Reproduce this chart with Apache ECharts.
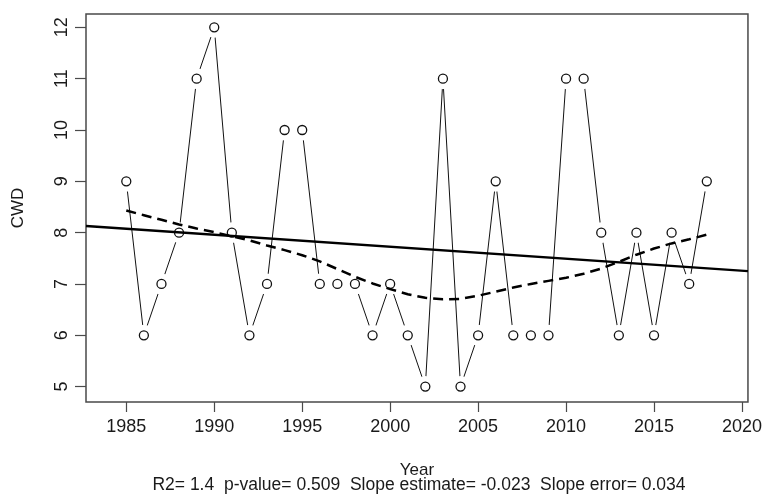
<!DOCTYPE html>
<html>
<head>
<meta charset="utf-8">
<script src="https://cdn.jsdelivr.net/npm/echarts@6/dist/echarts.min.js"></script>
<style>
html,body{margin:0;padding:0;background:#fff;}
#chart{width:765px;height:501px;}
</style>
</head>
<body>
<div id="chart"></div>
<script>
// ---- data ----
const years = [1985,1986,1987,1988,1989,1990,1991,1992,1993,1994,1995,1996,1997,1998,1999,2000,2001,2002,2003,2004,2005,2006,2007,2008,2009,2010,2011,2012,2013,2014,2015,2016,2017,2018];
const cwd = [9,6,7,8,11,12,8,6,7,10,10,7,7,7,6,7,6,5,11,5,6,9,6,6,6,11,11,8,6,8,6,8,7,9];
const loess = [8.43,8.34,8.25,8.16,8.08,8.01,7.93,7.85,7.75,7.66,7.56,7.44,7.29,7.14,7.01,6.90,6.80,6.73,6.70,6.71,6.77,6.85,6.93,7.00,7.06,7.12,7.20,7.30,7.43,7.57,7.69,7.79,7.87,7.96];
const trendYears = [1982.71, 2020.34];
const trendValues = [8.13, 7.25];
const xTicks = [1985,1990,1995,2000,2005,2010,2015,2020];
const yTicks = [5,6,7,8,9,10,11,12];
const xTitle = 'Year';
const yTitle = 'CWD';
const statsText = 'R2= 1.4  p-value= 0.509  Slope estimate= -0.023  Slope error= 0.034';

const pts = years.map((y,i)=>[y,cwd[i]]);
const loessPts = years.map((y,i)=>[y,loess[i]]);
const trendPts = trendYears.map((y,i)=>[y,trendValues[i]]);

const FONT = '"Liberation Sans", Arial, sans-serif';
const TXT = '#1a1a1a';
const chart = echarts.init(document.getElementById('chart'), null, {renderer:'canvas'});
chart.setOption({
  animation:false,
  backgroundColor:'#fff',
  grid:{left:86, top:14, right:13, bottom:99, show:true, borderColor:'#4a4a4a', borderWidth:1.5, backgroundColor:'transparent'},
  xAxis:{
    type:'value', min:1982.71, max:2020.34,
    name:xTitle, nameLocation:'middle', nameGap:60,
    nameTextStyle:{fontFamily:FONT, fontSize:17, color:TXT},
    axisLine:{show:false},
    splitLine:{show:false},
    axisTick:{show:true, length:10, customValues:xTicks, lineStyle:{color:'#4a4a4a', width:1.2}},
    axisLabel:{customValues:xTicks, margin:16, fontFamily:FONT, fontSize:18, color:TXT, formatter:v=>String(v)}
  },
  yAxis:{
    type:'value', min:4.70, max:12.26,
    name:yTitle, nameLocation:'middle', nameGap:59, nameRotate:90,
    nameTextStyle:{fontFamily:FONT, fontSize:17, color:TXT},
    axisLine:{show:false},
    splitLine:{show:false},
    axisTick:{show:true, length:11, customValues:yTicks, lineStyle:{color:'#4a4a4a', width:1.2}},
    axisLabel:{customValues:yTicks, rotate:90, margin:15, fontFamily:FONT, fontSize:18, color:TXT, formatter:v=>String(v)}
  },
  graphic:[{
    type:'text', x:419, y:476,
    style:{text:statsText, font:'17.5px "Liberation Sans", Arial, sans-serif', fill:TXT, textAlign:'center', textVerticalAlign:'top'}
  }],
  series:[
    {type:'line', data:pts, showSymbol:false, symbol:'none', z:2,
     lineStyle:{color:'#111', width:1}},
    {type:'scatter', data:pts, symbol:'circle', symbolSize:21, z:3,
     itemStyle:{color:'#fff', borderWidth:0, opacity:1}, silent:true},
    {type:'scatter', data:pts, symbol:'circle', symbolSize:9, z:4,
     itemStyle:{color:'#fff', borderColor:'#111', borderWidth:1.3, opacity:1}},
    {type:'line', data:trendPts, symbol:'none', z:5,
     lineStyle:{color:'#000', width:2.5}},
    {type:'line', data:loessPts, symbol:'none', smooth:false, z:6,
     lineStyle:{color:'#000', width:2.5, type:[10,6]}}
  ]
});
</script>
</body>
</html>
